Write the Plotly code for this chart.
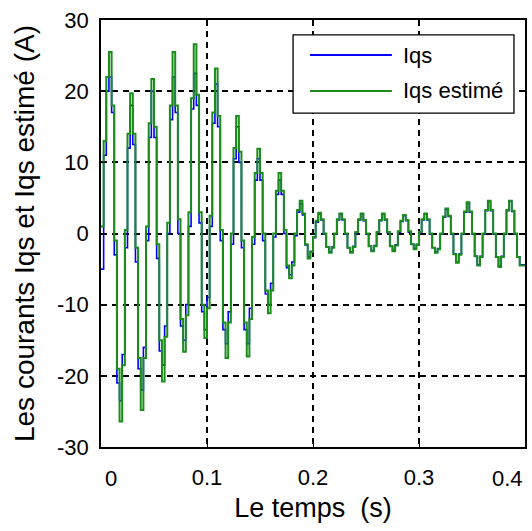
import plotly.graph_objects as go

# sampling step of the held (staircase) signals, seconds
DT = 0.0025

iqs = [
    -5.0, 11.0, 20.0,
    22.0, 17.0, -3.0, -21.0, -23.5, -17.0, -2.0, 12.0,
    18.0, 12.5, -4.0, -19.0, -22.0, -16.0, -1.0, 13.5,
    20.0, 13.5, -3.5, -16.5, -18.5, -13.0, 0.0, 16.0,
    22.0, 17.0, 0.0, -13.0, -15.0, -10.0, 1.0, 17.5,
    22.5, 18.0, 1.5, -11.0, -13.5, -9.0, 1.0, 15.5,
    21.0, 15.0, -1.0, -13.5, -15.5, -11.0, -1.5, 10.5,
    15.0, 10.0, -2.0, -13.5, -15.5, -10.5, -1.5, 7.5,
    10.5, 7.5, -1.0, -8.5, -10.0, -7.0, -0.5, 5.5,
    7.5, 5.5, 0.0, -4.8, -5.8, -4.0, -0.3, 3.0,
    4.2, 2.6, -1.6, -3.3, -2.5, -0.6, 1.6,
    2.7, 1.9, -0.1, -1.9, -2.6, -1.9, -0.1, 1.9,
    2.7, 1.9, -0.1, -2.0, -2.6, -1.8, 0.1, 1.9,
    2.7, 1.8, -0.1, -1.8, -2.4, -1.7, 0.1, 1.8,
    2.7, 1.9, 0.1, -1.8, -2.4, -1.6, 0.2, 1.7,
    2.5, 1.8, 0.2, -1.5, -2.1, -1.5, 0.1, 1.9,
    2.7, 1.9, -0.1, -2.0, -2.6, -2.1, -0.1, 2.3,
    3.4, 2.4, -0.1, -2.9, -4.0, -2.9, -0.1, 3.0,
    4.3, 3.0, -0.1, -3.2, -4.4, -3.2, -0.1, 3.2,
    4.5, 3.2, -0.1, -3.3, -4.6, -3.2, -0.1, 3.2,
    4.5, 3.1, -0.1, -3.3, -4.4, -4.4, -4.4,
]

# Iqs estimé (observer output)
iqs_est = [
    1.0, 13.0, 22.0,
    25.5, 18.0, -1.0, -19.0, -26.4, -18.5, 0.5, 14.0,
    19.7, 14.0, -2.0, -17.5, -24.8, -17.5, 1.0, 15.5,
    21.7, 15.0, -1.5, -15.0, -20.8, -14.5, 1.5, 18.0,
    25.5, 18.0, 2.0, -12.0, -16.6, -11.5, 3.0, 19.0,
    26.6, 19.5, 3.0, -10.0, -14.7, -10.5, 2.5, 17.0,
    23.2, 16.5, 0.5, -12.5, -17.5, -12.5, 0.0, 12.0,
    16.5, 11.5, -1.0, -12.5, -17.3, -12.0, -0.5, 8.5,
    11.9, 8.5, 0.0, -8.0, -11.2, -8.0, 0.0, 6.0,
    8.5, 6.0, 0.5, -4.5, -6.3, -4.5, 0.0, 3.3,
    4.6, 2.8, -1.5, -3.5, -2.6, -0.5, 1.8,
    2.9, 2.0, 0.0, -1.9, -2.7, -2.0, 0.0, 2.0,
    2.8, 2.0, 0.0, -2.0, -2.7, -1.9, 0.2, 2.0,
    2.8, 1.9, 0.0, -1.8, -2.5, -1.8, 0.2, 1.9,
    2.8, 2.0, 0.2, -1.8, -2.5, -1.7, 0.3, 1.8,
    2.6, 1.9, 0.3, -1.5, -2.2, -1.6, 0.2, 2.0,
    2.8, 2.0, 0.0, -2.0, -2.7, -2.2, 0.0, 2.4,
    3.5, 2.5, 0.0, -2.9, -4.1, -3.0, 0.0, 3.1,
    4.4, 3.1, 0.0, -3.2, -4.5, -3.3, 0.0, 3.3,
    4.6, 3.3, 0.0, -3.3, -4.7, -3.3, 0.0, 3.3,
    4.6, 3.2, 0.0, -3.3, -4.5, -4.5, -4.5,
]

x_ticks = [0, 0.1, 0.2, 0.3, 0.4]
x_labels = ['0', '0.1', '0.2', '0.3', '0.4']
y_ticks = [-30, -20, -10, 0, 10, 20, 30]
y_labels = ['-30', '-20', '-10', '0', '10', '20', '30']
legend_names = ['Iqs', 'Iqs estimé']

BLUE = 'rgb(0,0,255)'
GREEN = 'rgb(25,140,25)'
FONT = 'Liberation Sans, Arial, sans-serif'
TICK_SIZE = 22

fig = go.Figure()
fig.add_trace(go.Scatter(
    y=iqs, x0=0, dx=DT, mode='lines', name=legend_names[0],
    line=dict(color=BLUE, width=1.6, shape='hv'),
))
fig.add_trace(go.Scatter(
    y=iqs_est, x0=0, dx=DT, mode='lines', name=legend_names[1],
    line=dict(color=GREEN, width=2, shape='hv'),
))

axis_style = dict(
    showgrid=True, gridcolor='black', griddash='6px,5px', gridwidth=1.6,
    showline=True, linecolor='black', linewidth=1.6, mirror=True,
    ticks='inside', ticklen=5, tickcolor='black', zeroline=False,
    automargin=False,
    tickfont=dict(family=FONT, size=TICK_SIZE, color='black'),
)

fig.update_layout(
    width=532, height=531,
    margin=dict(l=101, r=7, t=20, b=84),
    paper_bgcolor='white', plot_bgcolor='white',
    showlegend=False,
    font=dict(family=FONT, color='black'),
    xaxis=dict(
        range=[0, 0.4], tickvals=x_ticks[1:-1], ticktext=x_labels[1:-1],
        ticklabelstandoff=10,
        title=dict(text='Le temps \u00a0(s)', font=dict(size=27), standoff=9),
        **axis_style,
    ),
    yaxis=dict(
        range=[-30, 30], tickvals=y_ticks, ticktext=y_labels,
        ticklabelstandoff=6,
        title=dict(text='Les courants Iqs et Iqs estimé (A)', font=dict(size=28), standoff=14),
        **axis_style,
    ),
)

# first and last x labels sit inside the plot edges, as in the original figure
for xv, lab, anchor, shift in [(x_ticks[0], x_labels[0], 'left', 2),
                               (x_ticks[-1], x_labels[-1], 'right', 0)]:
    fig.add_annotation(xref='x', yref='paper', x=xv, y=0, yshift=-31, xshift=shift,
                       text=lab, showarrow=False, xanchor=anchor, yanchor='middle',
                       font=dict(family=FONT, size=TICK_SIZE, color='black'))

# legend box drawn in the upper right corner, as in the original figure
fig.add_shape(type='rect', xref='paper', yref='paper',
              x0=0.453, x1=0.974, y0=0.782, y1=0.965,
              line=dict(color='black', width=1.3), fillcolor='white', layer='above')
for name, color, yy in zip(legend_names, [BLUE, GREEN], [0.918, 0.834]):
    fig.add_shape(type='line', xref='paper', yref='paper',
                  x0=0.493, x1=0.686, y0=yy, y1=yy,
                  line=dict(color=color, width=2), layer='above')
    fig.add_annotation(xref='paper', yref='paper', x=0.708, y=yy,
                       text=name, showarrow=False, xanchor='left', yanchor='middle',
                       font=dict(family=FONT, size=22, color='black'))

# the page body has a default margin; remove it so the figure fills the window
fig.write_html('out.html', config={'displayModeBar': False},
               post_script="document.body.style.margin='0';")
